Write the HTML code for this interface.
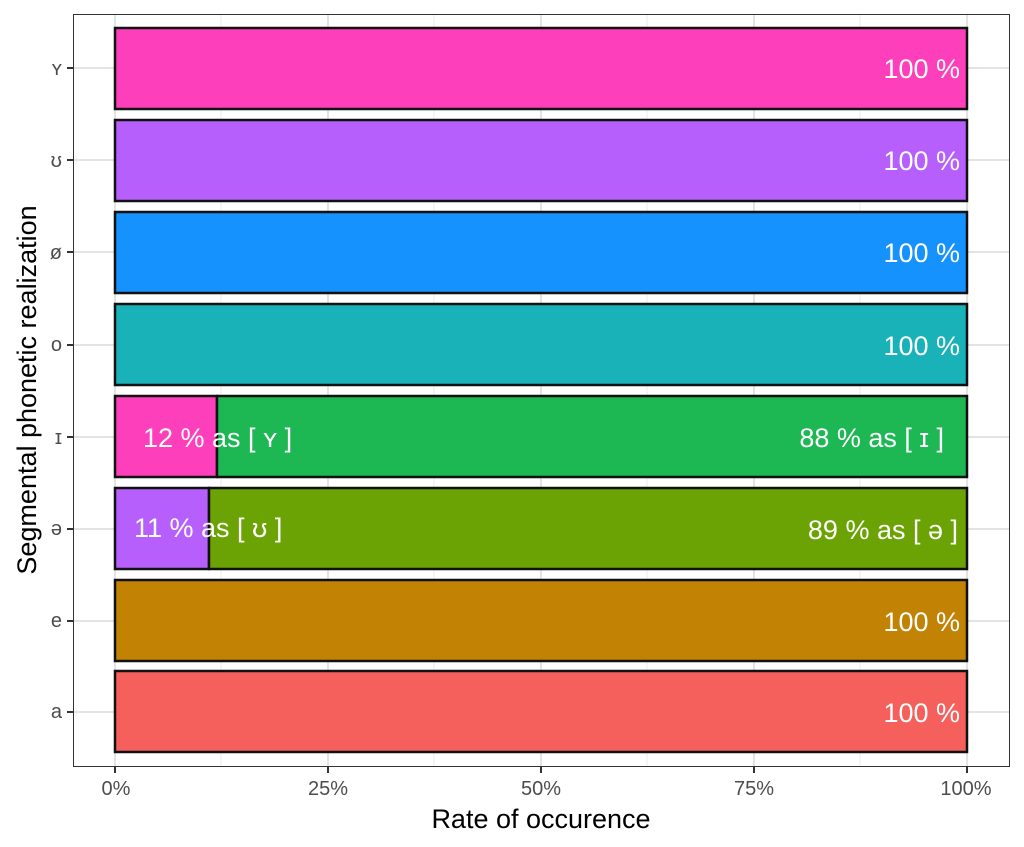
<!DOCTYPE html>
<html><head><style>body{margin:0;background:#fff}svg{display:block;font-family:"Liberation Sans","DejaVu Sans",sans-serif}</style></head><body>
<svg width="1024" height="847" viewBox="0 0 1024 847">
<rect width="1024" height="847" fill="#fff"/>
<g stroke="#ebebeb" stroke-width="1">
<line x1="221" y1="14" x2="221" y2="766"/><line x1="434" y1="14" x2="434" y2="766"/><line x1="647" y1="14" x2="647" y2="766"/><line x1="860" y1="14" x2="860" y2="766"/>
</g>
<g stroke="#e3e3e3" stroke-width="2">
<line x1="115" y1="14" x2="115" y2="766"/><line x1="328" y1="14" x2="328" y2="766"/><line x1="541" y1="14" x2="541" y2="766"/><line x1="754" y1="14" x2="754" y2="766"/><line x1="967" y1="14" x2="967" y2="766"/>
<line x1="73" y1="68" x2="1009" y2="68"/><line x1="73" y1="160" x2="1009" y2="160"/><line x1="73" y1="252" x2="1009" y2="252"/><line x1="73" y1="345" x2="1009" y2="345"/><line x1="73" y1="437" x2="1009" y2="437"/><line x1="73" y1="529" x2="1009" y2="529"/><line x1="73" y1="621" x2="1009" y2="621"/><line x1="73" y1="712" x2="1009" y2="712"/>
</g>
<g stroke="#111" stroke-width="2.5">
<rect x="115" y="28" width="852" height="81" fill="#fd3fbb"/>
<rect x="115" y="120" width="852" height="81" fill="#b75ffd"/>
<rect x="115" y="212" width="852" height="81" fill="#1692fe"/>
<rect x="115" y="304" width="852" height="81" fill="#18b2b8"/>
<rect x="115" y="396" width="102" height="81" fill="#fd3fbb"/>
<rect x="217" y="396" width="750" height="81" fill="#1db753"/>
<rect x="115" y="488" width="94" height="81" fill="#b75ffd"/>
<rect x="209" y="488" width="758" height="81" fill="#6ba204"/>
<rect x="115" y="580" width="852" height="81" fill="#c28203"/>
<rect x="115" y="671" width="852" height="81" fill="#f5605d"/>
</g>
<rect x="73.5" y="14.5" width="936" height="752" fill="none" stroke="#333" stroke-width="1"/>
<g fill="#fff" font-size="27" text-anchor="end">
<text x="960" y="78">100 %</text><text x="960" y="170">100 %</text><text x="960" y="262">100 %</text><text x="960" y="355">100 %</text>
<text x="944" y="447">88 % as [ ɪ ]</text><text x="958" y="539">89 % as [ ə ]</text>
<text x="960" y="631">100 %</text><text x="960" y="722">100 %</text>
<text x="143" y="447" text-anchor="start">12 % as [ ʏ ]</text><text x="134" y="537" text-anchor="start">11 % as [ ʊ ]</text>
</g>
<g stroke="#333" stroke-width="2">
<line x1="67" y1="68" x2="73" y2="68"/><line x1="67" y1="160" x2="73" y2="160"/><line x1="67" y1="252" x2="73" y2="252"/><line x1="67" y1="345" x2="73" y2="345"/><line x1="67" y1="437" x2="73" y2="437"/><line x1="67" y1="529" x2="73" y2="529"/><line x1="67" y1="621" x2="73" y2="621"/><line x1="67" y1="712" x2="73" y2="712"/>
<line x1="115" y1="767" x2="115" y2="773"/><line x1="328" y1="767" x2="328" y2="773"/><line x1="541" y1="767" x2="541" y2="773"/><line x1="754" y1="767" x2="754" y2="773"/><line x1="967" y1="767" x2="967" y2="773"/>
</g>
<g fill="#4d4d4d" font-size="20" text-anchor="end">
<text x="62" y="75">ʏ</text><text x="62" y="167">ʊ</text><text x="62" y="259">ø</text><text x="62" y="351">o</text><text x="62" y="444">ɪ</text><text x="62" y="535">ə</text><text x="62" y="627">e</text><text x="62" y="718">a</text>
</g>
<g fill="#4d4d4d" font-size="20" text-anchor="middle">
<text x="116" y="795">0%</text><text x="328" y="795">25%</text><text x="541" y="795">50%</text><text x="754" y="795">75%</text><text x="966" y="795">100%</text>
</g>
<text x="541" y="828" font-size="27" text-anchor="middle" fill="#000">Rate of occurence</text>
<text transform="translate(36,390) rotate(-90)" font-size="27" text-anchor="middle" fill="#000">Segmental phonetic realization</text>
</svg>
</body></html>
